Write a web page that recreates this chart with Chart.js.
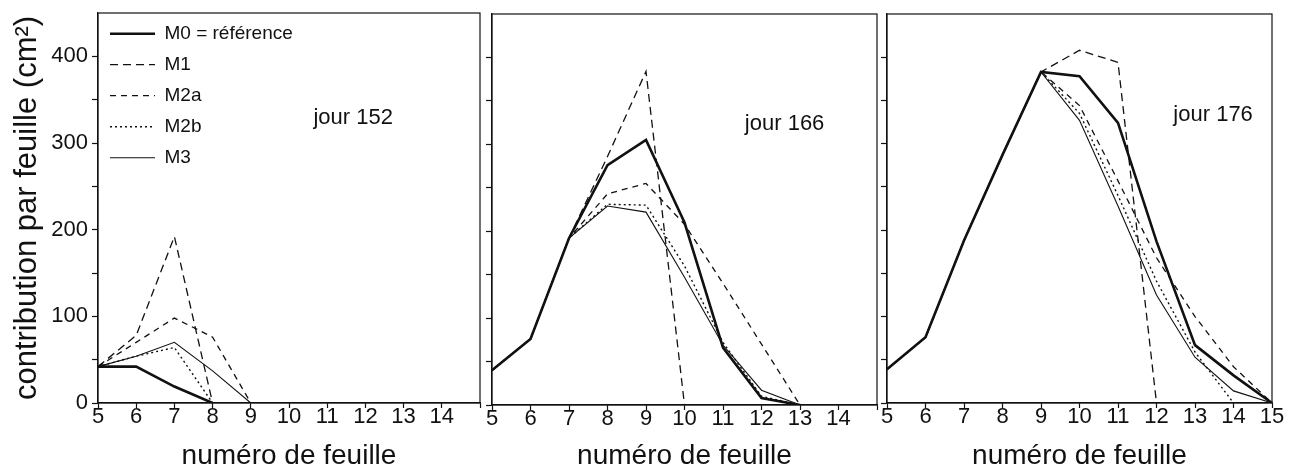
<!DOCTYPE html>
<html>
<head>
<meta charset="utf-8">
<script src="https://cdn.jsdelivr.net/npm/chart.js@4.4.0/dist/chart.umd.min.js"></script>
<style>
body { margin: 0; background: #fff; width: 1296px; height: 468px; overflow: hidden; position: relative; }
canvas { position: absolute; top: 0; }
</style>
</head>
<body>
<canvas id="c152" width="484" height="468" style="left:0px"></canvas>
<canvas id="c166" width="396" height="468" style="left:484px"></canvas>
<canvas id="c176" width="416" height="468" style="left:880px"></canvas>
<script>
// leaf numbers on the x axis
let feuilles = [5, 6, 7, 8, 9, 10, 11, 12, 13, 14, 15];
let modeles = ["M0 = référence", "M1", "M2a", "M2b", "M3"];
let jours = ["jour 152", "jour 166", "jour 176"];
let yTicks = [0, 100, 200, 300, 400];

// jour 152
let m0_152 = [42, 42, 19, 0];
let m1_152 = [42, 78, 192, 0];
let m2a_152 = [42, 70, 98, 76, 0];
let m2b_152 = [42, 54, 64, 0];
let m3_152 = [42, 54, 70, 37, 0];

// jour 166
let m0_166 = [40, 76, 192, 276, 305, 210, 66, 8, 0];
let m1_166 = [40, 76, 192, 286, 384, 0];
let m2a_166 = [40, 76, 192, 243, 255, 208, 140, 70, 0];
let m2b_166 = [40, 76, 192, 231, 230, 160, 72, 10, 0];
let m3_166 = [40, 76, 192, 229, 222, 147, 69, 17, 0];

// jour 176
let m0_176 = [39, 76, 188, 287, 383, 378, 324, 187, 67, 32, 0];
let m1_176 = [39, 76, 188, 287, 383, 408, 394, 0];
let m2a_176 = [39, 76, 188, 287, 383, 344, 257, 168, 100, 42, 0];
let m2b_176 = [39, 76, 188, 287, 383, 335, 240, 141, 59, 0];
let m3_176 = [39, 76, 188, 287, 383, 327, 228, 125, 53, 14, 0];

let lineStyles = [
    {borderWidth: 2.6, borderDash: []},
    {borderWidth: 1.3, borderDash: [8, 5]},
    {borderWidth: 1.3, borderDash: [6, 5]},
    {borderWidth: 1.4, borderDash: [2, 3]},
    {borderWidth: 1.1, borderDash: []}
];

let ink = "#111";
let sans = "'Liberation Sans', Arial, sans-serif";

// box around the plot + the "jour" label
let panelDeco = {
    id: "panelDeco",
    afterDatasetsDraw(chart, args, opts) {
        let ctx = chart.ctx;
        let a = chart.chartArea;
        ctx.save();
        ctx.strokeStyle = ink;
        ctx.lineWidth = 1.2;
        ctx.strokeRect(a.left, a.top, a.right - a.left, a.bottom - a.top);
        ctx.font = "22px " + sans;
        ctx.fillStyle = ink;
        ctx.textAlign = "center";
        ctx.textBaseline = "middle";
        // category axis works on indexes, so shift the leaf number
        let px = chart.scales.x.getPixelForValue(opts.x - feuilles[0]);
        let py = chart.scales.y.getPixelForValue(opts.y);
        ctx.fillText(opts.text, px, py);
        ctx.restore();
    }
};

// legend lines take the dash / width of the dataset line
function legendLabels(chart) {
    let items = Chart.defaults.plugins.legend.labels.generateLabels(chart);
    items.forEach(function (item, i) {
        item.lineDash = chart.data.datasets[i].borderDash;
        item.lineWidth = chart.data.datasets[i].borderWidth;
    });
    return items;
}

function makeChart(id, series, cfg) {
    let datasets = series.map(function (values, i) {
        return {
            label: modeles[i],
            data: values,
            borderColor: ink,
            backgroundColor: ink,
            borderWidth: lineStyles[i].borderWidth,
            borderDash: lineStyles[i].borderDash,
            pointRadius: 0,
            tension: 0,
            fill: false
        };
    });

    return new Chart(document.getElementById(id).getContext("2d"), {
        type: "line",
        data: { labels: feuilles, datasets: datasets },
        plugins: [panelDeco],
        options: {
            responsive: false,
            animation: false,
            layout: { padding: { top: cfg.top, right: cfg.right, left: 0, bottom: 0 } },
            plugins: {
                tooltip: { enabled: false },
                legend: {
                    display: cfg.legend,
                    position: "chartArea",
                    align: "start",
                    title: { display: true, text: " ", font: { size: 1 }, padding: { top: 0, bottom: 11 } },
                    labels: {
                        color: ink,
                        font: { family: sans, size: 19 },
                        usePointStyle: true,
                        pointStyle: "line",
                        pointStyleWidth: 45,
                        padding: 12,
                        generateLabels: legendLabels
                    }
                },
                panelDeco: { text: cfg.text, x: cfg.tx, y: cfg.ty }
            },
            scales: {
                x: {
                    type: "category",
                    offset: false,
                    border: { display: true, color: ink, width: 1.2 },
                    grid: { display: true, drawOnChartArea: false, drawTicks: true, tickLength: 5, tickColor: ink, tickWidth: 1.2 },
                    ticks: {
                        color: ink,
                        autoSkip: false,
                        maxRotation: 0,
                        padding: -4,
                        font: { family: sans, size: 22 },
                        callback: function (v, i) {
                            let f = feuilles[i];
                            return (f === 15 && !cfg.show15) ? "" : String(f);
                        }
                    },
                    title: {
                        display: true,
                        text: "numéro de feuille",
                        color: ink,
                        font: { family: sans, size: 28, lineHeight: 1 },
                        padding: { top: 0, bottom: -2 }
                    },
                    afterFit: function (scale) {
                        scale.height = cfg.xHeight;
                        scale.paddingLeft = 0;
                        scale.paddingRight = 0;
                    }
                },
                y: {
                    min: 0,
                    max: 450,
                    border: { display: true, color: ink, width: 1.2 },
                    grid: {
                        display: true,
                        drawOnChartArea: false,
                        drawTicks: true,
                        tickLength: 6,
                        tickWidth: 1.2,
                        tickColor: function (c) { return c.tick && c.tick.value > 400 ? "rgba(0,0,0,0)" : ink; }
                    },
                    ticks: {
                        display: cfg.yLabels,
                        autoSkip: false,
                        stepSize: 50,
                        color: ink,
                        padding: 4,
                        font: { family: sans, size: 22 },
                        callback: function (v) {
                            let r = Math.round(v);
                            return yTicks.indexOf(r) >= 0 ? String(r) : "";
                        }
                    },
                    title: {
                        display: cfg.yLabels,
                        text: "contribution par feuille (cm²)",
                        color: ink,
                        font: { family: sans, size: 31, lineHeight: 1 },
                        padding: { top: 12, bottom: 0 }
                    },
                    afterFit: function (scale) {
                        scale.width = cfg.yWidth;
                        scale.paddingTop = 0;
                        scale.paddingBottom = 0;
                    }
                }
            }
        }
    });
}

let chart152 = makeChart("c152", [m0_152, m1_152, m2a_152, m2b_152, m3_152],
    { legend: true, text: jours[0], tx: 11.68, ty: 329, top: 13, right: 4, xHeight: 65, yWidth: 98, yLabels: true, show15: false });

let chart166 = makeChart("c166", [m0_166, m1_166, m2a_166, m2b_166, m3_166],
    { legend: false, text: jours[1], tx: 12.6, ty: 324, top: 14, right: 3, xHeight: 63, yWidth: 8, yLabels: false, show15: false });

let chart176 = makeChart("c176", [m0_176, m1_176, m2a_176, m2b_176, m3_176],
    { legend: false, text: jours[2], tx: 13.47, ty: 333, top: 14, right: 24, xHeight: 65, yWidth: 7, yLabels: false, show15: true });
</script>
</body>
</html>
